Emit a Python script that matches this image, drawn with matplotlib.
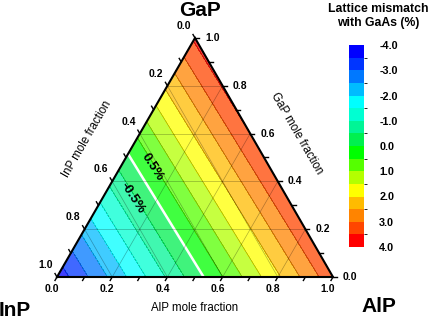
import matplotlib
matplotlib.use("Agg")
import matplotlib.pyplot as plt
import matplotlib.tri as mtri
from matplotlib.colors import ListedColormap, BoundaryNorm
from matplotlib.cm import ScalarMappable
import numpy as np

plt.rcParams['font.family'] = ['Liberation Sans', 'DejaVu Sans']

# corner compounds and their lattice mismatch with GaAs (%)
corners = ['InP', 'AlP', 'GaP']
mismatch = [-3.81, 3.36, 3.59]

levels = [-4.0, -3.5, -3.0, -2.5, -2.0, -1.5, -1.0, -0.5, 0.0,
          0.5, 1.0, 1.5, 2.0, 2.5, 3.0, 3.5, 4.0]
band_colors = ['#0000ff', '#0035ff', '#0078ff', '#00bcff', '#00ffff', '#00ffd2',
               '#00f596', '#00f050', '#00ff00', '#55ff00', '#b4ff00', '#ffff00',
               '#ffbb00', '#ff8400', '#ff4600', '#ff0000']
cbar_ticks = [-4, -3, -2, -1, 0, 1, 2, 3, 4]
major_ticks = [0.0, 0.2, 0.4, 0.6, 0.8, 1.0]
minor_ticks = [0.1, 0.3, 0.5, 0.7, 0.9]
grid_vals = [0.2, 0.4, 0.6, 0.8]

H = np.sqrt(3) / 2
S = 276.0  # pixels per unit


def to_xy(inp, alp, gap):
    return alp + gap / 2, gap * H


fig = plt.figure(figsize=(4.33, 3.21), dpi=100)
ax = fig.add_axes([0, 0, 1, 1])
ax.set_xlim(-57 / S, (433 - 57) / S)
ax.set_ylim((277 - 321) / S, 277 / S)
ax.axis('off')

# triangle with the three pure compounds at the vertices
vx, vy = to_xy(np.array([1, 0, 0]), np.array([0, 1, 0]), np.array([0, 0, 1]))
tri = mtri.Triangulation(vx, vy, triangles=[[0, 1, 2]])

cmap = ListedColormap(band_colors)
norm = BoundaryNorm(levels, cmap.N)
ax.tricontourf(tri, mismatch, levels=levels, cmap=cmap, norm=norm, alpha=0.75)
ax.tricontour(tri, mismatch, levels=levels, colors='k', linewidths=0.5, alpha=0.35)
ax.tricontour(tri, mismatch, levels=[0.0], colors='white', linewidths=1.8)

# grid lines
for v in grid_vals:
    for a, b in [((1 - v, 0, v), (0, 1 - v, v)),      # const GaP
                 ((1 - v, v, 0), (0, v, 1 - v)),      # const AlP
                 ((v, 1 - v, 0), (v, 0, 1 - v))]:     # const InP
        p, q = to_xy(*a), to_xy(*b)
        ax.plot([p[0], q[0]], [p[1], q[1]], color='k', lw=0.5, alpha=0.3)

# triangle outline
ax.plot(list(vx) + [vx[0]], list(vy) + [vy[0]], color='k', lw=1.5,
        solid_joinstyle='miter')

# ticks
L = 4 / S
for v in major_ticks + minor_ticks:
    # AlP (bottom), tick down-left
    x, y = to_xy(1 - v, v, 0)
    ax.plot([x, x - 0.5 * L], [y, y - H * L], color='k', lw=1)
    # GaP (right), tick to the right
    x, y = to_xy(0, 1 - v, v)
    ax.plot([x, x + L], [y, y], color='k', lw=1)
    # InP (left), tick up-left
    x, y = to_xy(v, 0, 1 - v)
    ax.plot([x, x - 0.5 * L], [y, y + H * L], color='k', lw=1)

tk = dict(fontsize=7.5, fontweight='bold')
for v in major_ticks:
    x, y = to_xy(1 - v, v, 0)
    ax.text(x - 5 / S, y - 12 / S, f'{v:.1f}', ha='center', va='center', **tk)
    x, y = to_xy(0, 1 - v, v)
    ax.text(x + 10 / S, y, f'{v:.1f}', ha='left', va='center', **tk)
    x, y = to_xy(v, 0, 1 - v)
    ax.text(x - 4 / S, y + 12 / S, f'{v:.1f}', ha='right', va='center', **tk)

# axis titles
ax.text(0.5, -31 / S, 'AlP mole fraction', ha='center', va='center', fontsize=8.3)
ax.text(0.11, 0.50, 'InP mole fraction', ha='center', va='center',
        fontsize=8.3, rotation=60, rotation_mode='anchor')
ax.text(0.87, 0.52, 'GaP mole fraction', ha='center', va='center',
        fontsize=8.3, rotation=-60, rotation_mode='anchor')

# corner labels
cl = dict(fontsize=15, fontweight='bold', ha='center', va='center')
ax.text((200 - 57) / S, (277 - 10) / S, corners[2], **cl)
ax.text((15 - 57) / S, (277 - 311) / S, corners[0], **cl)
ax.text((379 - 57) / S, (277 - 306) / S, corners[1], **cl)

# contour labels
ax.text(0.344, 0.399, '0.5%', rotation=-57, ha='center', va='center',
        fontsize=9.5, fontweight='bold', rotation_mode='anchor')
ax.text(0.272, 0.286, '-0.5%', rotation=-57, ha='center', va='center',
        fontsize=9.5, fontweight='bold', rotation_mode='anchor')

# colorbar
cax = fig.add_axes([349 / 433, 1 - 247 / 321, 15 / 433, 202 / 321])
cb = fig.colorbar(ScalarMappable(norm=norm, cmap=cmap), cax=cax,
                  ticks=cbar_ticks, spacing='proportional')
cb.outline.set_visible(False)
cax.invert_yaxis()
cax.tick_params(length=0, pad=11)
cax.set_yticklabels([f'{t:.1f}' for t in cbar_ticks], fontsize=7.8,
                    fontweight='bold')
fig.text(378 / 433, 1 - 16 / 321, 'Lattice mismatch\nwith GaAs (%)',
         ha='center', va='center', fontsize=8.8, fontweight='bold',
         linespacing=1.3)

fig.savefig('out.png', dpi=100)
